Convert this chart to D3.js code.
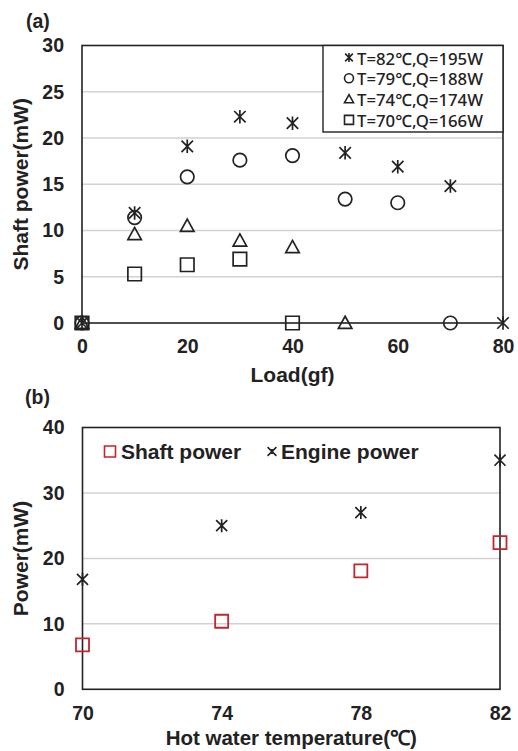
<!DOCTYPE html>
<html><head><meta charset="utf-8">
<script src="https://cdn.jsdelivr.net/npm/d3@7"></script>
<style>
html,body{margin:0;padding:0;background:#fff;}
svg{display:block;}
text{font-family:"Liberation Sans",Arial,sans-serif;font-weight:bold;fill:#222;}
.leg{font-family:"Noto Sans","Open Sans",sans-serif;font-weight:500;}
</style></head>
<body>
<script>
// ---- Panel (a) data ----
const loadA = [0, 10, 20, 30, 40, 50, 60, 70, 80];
const seriesA_T82 = [0, 11.9, 19.1, 22.3, 21.6, 18.4, 16.9, 14.8, 0];
const loadA_T79 = [0, 10, 20, 30, 40, 50, 60, 70];
const seriesA_T79 = [0, 11.4, 15.8, 17.6, 18.1, 13.4, 13.0, 0];
const loadA_T74 = [0, 10, 20, 30, 40, 50];
const seriesA_T74 = [0, 9.6, 10.5, 8.9, 8.2, 0];
const loadA_T70 = [0, 10, 20, 30, 40];
const seriesA_T70 = [0, 5.3, 6.3, 6.9, 0];
const legendA = ["T=82℃,Q=195W", "T=79℃,Q=188W", "T=74℃,Q=174W", "T=70℃,Q=166W"];
const xTicksA = [0, 20, 40, 60, 80];
const yTicksA = [0, 5, 10, 15, 20, 25, 30];

// ---- Panel (b) data ----
const tempB = [70, 74, 78, 82];
const shaftB = [6.8, 10.4, 18.1, 22.4];
const engineB = [16.8, 25.0, 27.0, 35.0];
const xTicksB = [70, 74, 78, 82];
const yTicksB = [0, 10, 20, 30, 40];
const legendB = ["Shaft power", "Engine power"];

const W = 518, H = 751;
const svg = d3.select("body").append("svg").attr("width", W).attr("height", H);

function markerPath(type, s) {
  const h = s / 2;
  if (type === "star") {
    const d = h * 0.85;
    return `M0,${-h}L0,${h}M${-d},${-d}L${d},${d}M${-d},${d}L${d},${-d}`;
  }
  if (type === "x") {
    const d = h * 0.8;
    return `M${-d},${-d}L${d},${d}M${-d},${d}L${d},${-d}M0,${-h*0.45}L0,${h*0.45}`;
  }
  if (type === "circle") {
    const r = h;
    return `M${r},0A${r},${r} 0 1,1 ${-r},0A${r},${r} 0 1,1 ${r},0Z`;
  }
  if (type === "tri") {
    return `M0,${-h}L${h},${h*0.8}L${-h},${h*0.8}Z`;
  }
  if (type === "square") {
    return `M${-h},${-h}L${h},${-h}L${h},${h}L${-h},${h}Z`;
  }
}

function styleTicks(sel) {
  sel.select(".domain").remove();
  sel.selectAll("text").attr("font-size", 19.5).attr("font-family", "Liberation Sans")
    .attr("font-weight", "bold").attr("fill", "#222");
}

// ================= Panel (a) =================
{
  const L = 82, R = 503, T = 45.5, B = 323;
  const x = d3.scaleLinear().domain([0, 80]).range([L, R]);
  const y = d3.scaleLinear().domain([0, 30]).range([B, T]);
  const g = svg.append("g");

  g.selectAll("line.grid").data(yTicksA.filter(v => v > 0 && v < 30)).enter()
    .append("line").attr("x1", L).attr("x2", R).attr("y1", d => y(d)).attr("y2", d => y(d))
    .attr("stroke", "#d2d2d2").attr("stroke-width", 1.5);

  g.append("rect").attr("x", L).attr("y", T).attr("width", R - L).attr("height", B - T)
    .attr("fill", "none").attr("stroke", "#222").attr("stroke-width", 1.6);

  g.append("g").attr("transform", `translate(${L},0)`)
    .call(d3.axisLeft(y).tickValues(yTicksA).tickSize(0).tickPadding(18)).call(styleTicks);

  g.append("g").attr("transform", `translate(0,${B})`)
    .call(d3.axisBottom(x).tickValues(xTicksA).tickSize(0).tickPadding(16)).call(styleTicks);

  const sets = [
    {xs: loadA, ys: seriesA_T82, m: "star"},
    {xs: loadA_T79, ys: seriesA_T79, m: "circle"},
    {xs: loadA_T74, ys: seriesA_T74, m: "tri"},
    {xs: loadA_T70, ys: seriesA_T70, m: "square"}
  ];
  sets.forEach(s => {
    g.selectAll(null).data(s.xs.map((v, i) => [v, s.ys[i]])).enter()
      .append("path").attr("d", markerPath(s.m, 13.5))
      .attr("transform", d => `translate(${x(d[0])},${y(d[1])})`)
      .attr("fill", "none").attr("stroke", "#222").attr("stroke-width", 1.7);
  });

  // legend
  const lg = g.append("g");
  lg.append("rect").attr("x", 323).attr("y", T).attr("width", R - 323).attr("height", 132 - T)
    .attr("fill", "#fff").attr("stroke", "#222").attr("stroke-width", 1.4);
  const mk = ["star", "circle", "tri", "square"];
  legendA.forEach((t, i) => {
    const cy = 58.5 + i * 20.8;
    lg.append("path").attr("d", markerPath(mk[i], 9)).attr("transform", `translate(349,${cy - 1})`)
      .attr("fill", "none").attr("stroke", "#222").attr("stroke-width", 1.6);
    lg.append("text").attr("class", "leg").attr("x", 357).attr("y", cy).attr("dy", "0.36em")
      .attr("font-size", 16.8).attr("textLength", 126).attr("lengthAdjust", "spacingAndGlyphs").text(t);
  });

  svg.append("text").attr("x", 26).attr("y", 28).attr("font-size", 19.5).text("(a)");
  svg.append("text").attr("transform", `translate(28,${(T + B) / 2}) rotate(-90)`)
    .attr("text-anchor", "middle").attr("font-size", 21).text("Shaft power(mW)");
  svg.append("text").attr("x", (L + R) / 2).attr("y", 382).attr("text-anchor", "middle")
    .attr("font-size", 21).text("Load(gf)");
}

// ================= Panel (b) =================
{
  const L = 82.5, R = 500, T = 427.5, B = 689.3;
  const x = d3.scaleLinear().domain([70, 82]).range([L, R]);
  const y = d3.scaleLinear().domain([0, 40]).range([B, T]);
  const g = svg.append("g");

  g.selectAll("line.grid").data(yTicksB.filter(v => v > 0 && v < 40)).enter()
    .append("line").attr("x1", L).attr("x2", R).attr("y1", d => y(d)).attr("y2", d => y(d))
    .attr("stroke", "#d2d2d2").attr("stroke-width", 1.5);

  g.append("rect").attr("x", L).attr("y", T).attr("width", R - L).attr("height", B - T)
    .attr("fill", "none").attr("stroke", "#222").attr("stroke-width", 1.6);

  g.append("g").attr("transform", `translate(${L},0)`)
    .call(d3.axisLeft(y).tickValues(yTicksB).tickSize(0).tickPadding(18)).call(styleTicks);

  g.append("g").attr("transform", `translate(0,${B})`)
    .call(d3.axisBottom(x).tickValues(xTicksB).tickSize(0).tickPadding(17)).call(styleTicks);

  g.selectAll(null).data(tempB.map((v, i) => [v, engineB[i]])).enter()
    .append("path").attr("d", markerPath("star", 13))
    .attr("transform", d => `translate(${x(d[0])},${y(d[1])})`)
    .attr("fill", "none").attr("stroke", "#222").attr("stroke-width", 1.7);
  g.selectAll(null).data(tempB.map((v, i) => [v, shaftB[i]])).enter()
    .append("path").attr("d", markerPath("square", 13))
    .attr("transform", d => `translate(${x(d[0])},${y(d[1])})`)
    .attr("fill", "none").attr("stroke", "#c0262d").attr("stroke-width", 1.8);

  // legend
  const ly = 451.5;
  g.append("path").attr("d", markerPath("square", 11)).attr("transform", `translate(110,${ly})`)
    .attr("fill", "none").attr("stroke", "#c0262d").attr("stroke-width", 1.6);
  g.append("text").attr("x", 121).attr("y", ly).attr("dy", "0.36em").attr("font-size", 21).text(legendB[0]);
  g.append("path").attr("d", markerPath("x", 11)).attr("transform", `translate(272,${ly})`)
    .attr("fill", "none").attr("stroke", "#222").attr("stroke-width", 1.6);
  g.append("text").attr("x", 281).attr("y", ly).attr("dy", "0.36em").attr("font-size", 21).text(legendB[1]);

  svg.append("text").attr("x", 25).attr("y", 404).attr("font-size", 19.5).text("(b)");
  svg.append("text").attr("transform", `translate(28,${(T + B) / 2}) rotate(-90)`)
    .attr("text-anchor", "middle").attr("font-size", 21).text("Power(mW)");
  svg.append("text").attr("x", (L + R) / 2).attr("y", 745).attr("text-anchor", "middle")
    .attr("font-size", 20.5).text("Hot water temperature(℃)");
}
</script>
</body></html>
